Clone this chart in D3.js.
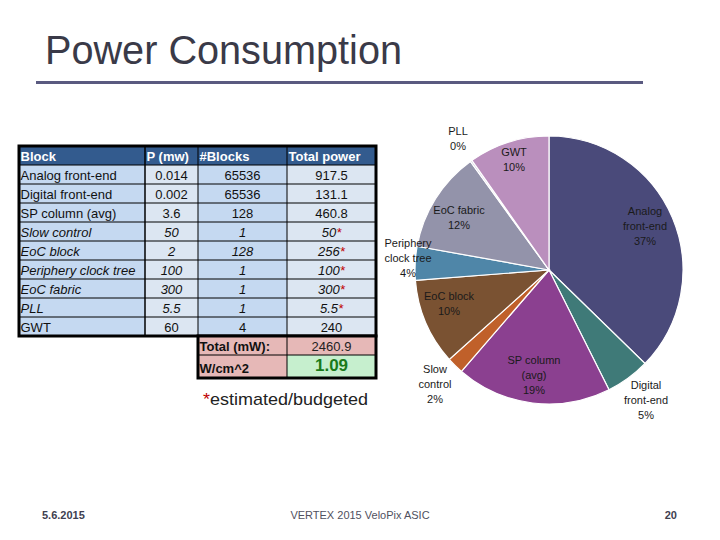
<!DOCTYPE html>
<html><head><meta charset="utf-8">
<script src="https://cdn.jsdelivr.net/npm/d3@7/dist/d3.min.js"></script>
<style>body{margin:0;background:#fff}svg{display:block;font-family:"Liberation Sans",Arial,sans-serif}</style>
</head><body><svg id="c" width="720" height="540"></svg>
<script>
// ---- data ----
const headers = ["Block", "P (mw)", "#Blocks", "Total power"];
const blocks = ["Analog front-end","Digital front-end","SP column (avg)","Slow control","EoC block","Periphery clock tree","EoC fabric","PLL","GWT"];
const powerPerBlock = ["0.014","0.002","3.6","50","2","100","300","5.5","60"];
const blockCounts = ["65536","65536","128","1","128","1","1","1","4"];
const totalPower = [917.5, 131.1, 460.8, 50, 256, 100, 300, 5.5, 240];
const estimated = [false,false,false,true,true,true,true,true,false];
const italicRows = [false,false,false,true,true,true,true,true,false];
const pieLabels = [["Analog","front-end"],["Digital","front-end"],["SP column","(avg)"],["Slow","control"],["EoC block"],["Periphery","clock tree"],["EoC fabric"],["PLL"],["GWT"]];
const sliceColors = ["#4a4a7a","#3f7a78","#8b4090","#c0602a","#7a5232","#4f86a8","#9393aa","#c8c0d8","#ba8fbd"];
const totalLabel = "Total (mW):", totalValue = "2460.9";
const densityLabel = "W/cm^2", densityValue = "1.09";

const svg = d3.select("#c");

// title
svg.append("text").attr("x",45).attr("y",64).attr("font-size",40).attr("textLength",357).attr("lengthAdjust","spacingAndGlyphs").attr("fill","#3a3a48").text("Power Consumption");
svg.append("rect").attr("x",36).attr("y",81).attr("width",607).attr("height",3).attr("fill","#5a5a80");

// ---- table ----
const colX = [19,145,198,287,376];
const rowTop = 146, rowH = 19;
const nRows = blocks.length;
const colFill = ["#c5d9f1","#dce6f2","#c5d9f1","#dce6f2"];
const rowY = d3.scaleLinear().domain([0,1]).range([rowTop+rowH, rowTop+2*rowH]);
const tbl = svg.append("g");
// header
tbl.append("rect").attr("x",colX[0]).attr("y",rowTop).attr("width",colX[4]-colX[0]).attr("height",rowH).attr("fill","#335b8e");
headers.forEach((h,i)=>{
  tbl.append("text").attr("x",colX[i]+1.5).attr("y",rowTop+14.5).attr("font-size",13).attr("font-weight","bold").attr("fill","#fff").text(h);
});
for(let c=0;c<4;c++){
  tbl.append("rect").attr("x",colX[c]).attr("y",rowY(0)).attr("width",colX[c+1]-colX[c]).attr("height",rowH*nRows).attr("fill",colFill[c]);
}
// grid
for(let r=0;r<nRows;r++){
  tbl.append("line").attr("x1",colX[0]).attr("x2",colX[4]).attr("y1",rowY(r)).attr("y2",rowY(r)).attr("stroke","#000").attr("stroke-width",1);
}
for(let c=1;c<4;c++){
  tbl.append("line").attr("x1",colX[c]).attr("x2",colX[c]).attr("y1",rowTop).attr("y2",rowY(nRows)).attr("stroke","#000").attr("stroke-width",c===1?1.5:1);
}
const fmt = v => d3.format(".1f")(v).replace(/\.0$/,"");
blocks.forEach((b,r)=>{
  const y = rowY(r)+14.5;
  const st = italicRows[r] ? "italic" : "normal";
  tbl.append("text").attr("x",colX[0]+1.5).attr("y",y).attr("font-size",13).attr("font-style",st).attr("fill","#111").text(b);
  tbl.append("text").attr("x",(colX[1]+colX[2])/2).attr("y",y).attr("text-anchor","middle").attr("font-size",13).attr("font-style",st).attr("fill","#111").text(powerPerBlock[r]);
  tbl.append("text").attr("x",(colX[2]+colX[3])/2).attr("y",y).attr("text-anchor","middle").attr("font-size",13).attr("font-style",st).attr("fill","#111").text(blockCounts[r]);
  const t = tbl.append("text").attr("x",(colX[3]+colX[4])/2).attr("y",y).attr("text-anchor","middle").attr("font-size",13).attr("font-style",st).attr("fill","#111");
  t.append("tspan").text(fmt(totalPower[r]));
  if(estimated[r]) t.append("tspan").attr("fill","#c00000").text("*");
});
tbl.append("rect").attr("x",colX[0]).attr("y",rowTop).attr("width",colX[4]-colX[0]).attr("height",rowH*(nRows+1)).attr("fill","none").attr("stroke","#000").attr("stroke-width",3);
// total box
const bY = rowY(nRows);
tbl.append("rect").attr("x",colX[2]).attr("y",bY).attr("width",colX[4]-colX[2]).attr("height",19).attr("fill","#e6b8b7");
tbl.append("rect").attr("x",colX[2]).attr("y",bY+19).attr("width",colX[3]-colX[2]).attr("height",23).attr("fill","#e6b8b7");
tbl.append("rect").attr("x",colX[3]).attr("y",bY+19).attr("width",colX[4]-colX[3]).attr("height",23).attr("fill","#c6efce");
tbl.append("line").attr("x1",colX[2]).attr("x2",colX[4]).attr("y1",bY+19).attr("y2",bY+19).attr("stroke","#000");
tbl.append("line").attr("x1",colX[3]).attr("x2",colX[3]).attr("y1",bY).attr("y2",bY+42).attr("stroke","#000");
tbl.append("rect").attr("x",colX[2]).attr("y",bY).attr("width",colX[4]-colX[2]).attr("height",42).attr("fill","none").attr("stroke","#000").attr("stroke-width",3);
tbl.append("text").attr("x",colX[2]+1.5).attr("y",bY+14.5).attr("font-size",13).attr("font-weight","bold").attr("fill","#111").text(totalLabel);
tbl.append("text").attr("x",(colX[3]+colX[4])/2).attr("y",bY+14.5).attr("text-anchor","middle").attr("font-size",13).attr("fill","#222").text(totalValue);
tbl.append("text").attr("x",colX[2]+1.5).attr("y",bY+37).attr("font-size",13).attr("font-weight","bold").attr("fill","#111").text(densityLabel);
tbl.append("text").attr("x",(colX[3]+colX[4])/2).attr("y",bY+35).attr("text-anchor","middle").attr("font-size",17).attr("font-weight","bold").attr("fill","#1a7a1a").text(densityValue);
const est = svg.append("text").attr("x",203).attr("y",405).attr("font-size",17).attr("textLength",165).attr("lengthAdjust","spacingAndGlyphs").attr("fill","#222");
est.append("tspan").attr("fill","#c00000").text("*");
est.append("tspan").text("estimated/budgeted");

// ---- pie ----
const cx = 549, cy = 270, R = 134;
const pie = d3.pie().sort(null).value(d=>d)(totalPower);
const arc = d3.arc().innerRadius(0).outerRadius(R);
const g = svg.append("g").attr("transform",`translate(${cx},${cy})`);
g.selectAll("path").data(pie).join("path").attr("d",arc).attr("fill",(d,i)=>sliceColors[i]).attr("stroke","#fff").attr("stroke-width",1.2);
const pctTotal = d3.sum(totalPower);
const labelPos = [[645,215],[646,389],[534,364],[435,373],[449,300],[408,247],[459,214],[458,135],[514,156]];
pie.forEach((d,i)=>{
  const lines = pieLabels[i].concat([Math.round(totalPower[i]/pctTotal*100)+"%"]);
  const t = svg.append("text").attr("text-anchor","middle").attr("font-size",11).attr("fill","#1a1a1a");
  lines.forEach((l,k)=>t.append("tspan").attr("x",labelPos[i][0]).attr("y",labelPos[i][1]+k*15).text(l));
});

// footer
svg.append("text").attr("x",42).attr("y",519).attr("font-size",11).attr("font-weight","bold").attr("fill","#404050").text("5.6.2015");
svg.append("text").attr("x",360).attr("y",519).attr("text-anchor","middle").attr("font-size",11).attr("fill","#505060").text("VERTEX 2015 VeloPix ASIC");
svg.append("text").attr("x",677).attr("y",519).attr("text-anchor","end").attr("font-size",11).attr("font-weight","bold").attr("fill","#404050").text("20");
</script></body></html>
